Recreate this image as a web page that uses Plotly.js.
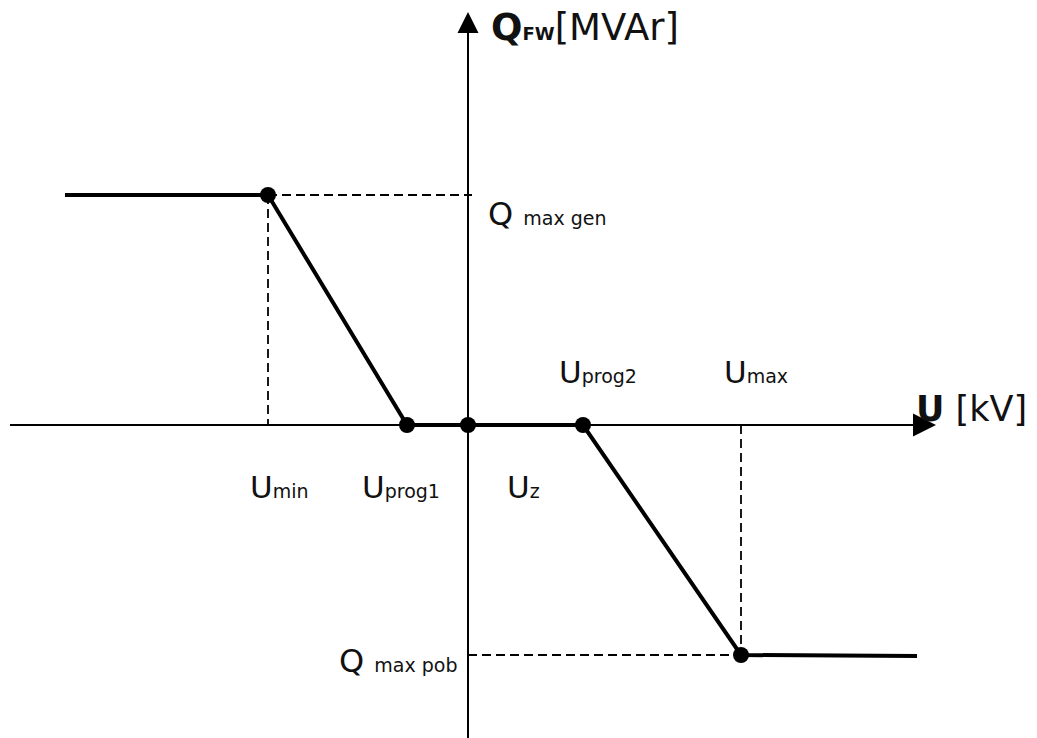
<!DOCTYPE html>
<html>
<head>
<meta charset="utf-8">
<script src="https://cdn.plot.ly/plotly-3.0.1.min.js"></script>
<style>html,body{margin:0;padding:0;background:#fff;}#chart{width:1037px;height:738px;}</style>
</head>
<body>
<div id="chart"></div>
<script>
// Characteristic Q(U) – schematic values (axis origin at U_z, Q = 0)
const curveU = [-403, -200, -61, 0, 115, 273, 449];
const curveQ = [230, 230, 0, 0, 0, -230, -231];
const keyIdx = [1, 2, 3, 4, 5];          // Umin, Uprog1, Uz, Uprog2, Umax
const pointLabels = ['min', 'prog1', 'z', 'prog2', 'max'];
const qLabels = ['max gen', 'max pob'];
const axisU = [-458, 446];   // x axis extent
const axisQ = [-313, 392];   // y axis extent

const Umin = curveU[1], Uprog1 = curveU[2], Uz = curveU[3], Uprog2 = curveU[4], Umax = curveU[5];
const Qgen = curveQ[1], Qpob = curveQ[5];

const black = '#000';
const traces = [];
// axes
traces.push({x: axisU, y: [0, 0], mode: 'lines', line: {color: black, width: 1.8}, hoverinfo: 'skip'});
traces.push({x: [0, 0], y: axisQ, mode: 'lines', line: {color: black, width: 2}, hoverinfo: 'skip'});
traces.push({x: [axisU[1] + 22], y: [0], mode: 'markers', marker: {symbol: 'arrow-right', size: 23, color: black, line: {width: 0}}, hoverinfo: 'skip'});
traces.push({x: [0], y: [axisQ[1] + 21], mode: 'markers', marker: {symbol: 'arrow-up', size: 21, color: black, line: {width: 0}}, hoverinfo: 'skip'});
// dashed guides
const dashStyle = {color: black, width: 1.8, dash: '9px,5px'};
traces.push({x: [Umin, 4], y: [Qgen, Qgen], mode: 'lines', line: dashStyle, hoverinfo: 'skip'});
traces.push({x: [Umin, Umin], y: [Qgen, 0], mode: 'lines', line: dashStyle, hoverinfo: 'skip'});
traces.push({x: [0, Umax], y: [Qpob, Qpob], mode: 'lines', line: dashStyle, hoverinfo: 'skip'});
traces.push({x: [Umax, Umax], y: [0, Qpob], mode: 'lines', line: dashStyle, hoverinfo: 'skip'});
// characteristic
traces.push({x: curveU, y: curveQ, mode: 'lines', line: {color: black, width: 4}, hoverinfo: 'skip'});
traces.push({x: keyIdx.map(i => curveU[i]), y: keyIdx.map(i => curveQ[i]), mode: 'markers',
  marker: {size: 16, color: black}, hoverinfo: 'skip'});

const F = 'DejaVu Sans, Verdana, sans-serif';
const sub = s => "<span style='font-size:19px'>" + s + "</span>";
const labelPos = [
  {x: Umin - 20, y: -62},
  {x: Uprog1 - 47, y: -62},
  {x: Uz + 37, y: -62},
  {x: Uprog2 - 26, y: 53},
  {x: Umax - 19, y: 53}
];
const annotations = pointLabels.map((l, i) => ({
  x: labelPos[i].x, y: labelPos[i].y, xref: 'x', yref: 'y', xanchor: 'left', yanchor: 'middle',
  text: 'U' + sub(l), showarrow: false, font: {family: F, size: 31, color: '#111'}
}));
annotations.push({x: 18, y: Qgen - 19, xanchor: 'left', yanchor: 'middle', text: 'Q ' + sub(qLabels[0]),
  showarrow: false, font: {family: F, size: 32, color: '#111'}});
annotations.push({x: -131, y: Qpob - 6, xanchor: 'left', yanchor: 'middle', text: 'Q ' + sub(qLabels[1]),
  showarrow: false, font: {family: F, size: 32, color: '#111'}});
annotations.push({x: 446, y: 16, xanchor: 'left', yanchor: 'middle',
  text: '<b>U</b> [kV]', showarrow: false, font: {family: F, size: 35, color: '#111'}});
annotations.push({x: 21, y: 398, xanchor: 'left', yanchor: 'middle',
  text: "<b>Q</b><b><span style='font-size:18px'>FW</span></b>[MVAr]", showarrow: false, font: {family: F, size: 37, color: '#111'}});

const layout = {
  width: 1037, height: 738, margin: {l: 0, r: 0, t: 0, b: 0},
  paper_bgcolor: '#fff', plot_bgcolor: '#fff', showlegend: false,
  xaxis: {range: [-468, 569], visible: false, fixedrange: true},
  yaxis: {range: [-313, 425], visible: false, fixedrange: true},
  annotations: annotations
};
Plotly.newPlot('chart', traces, layout, {staticPlot: true, displayModeBar: false});
</script>
</body>
</html>
